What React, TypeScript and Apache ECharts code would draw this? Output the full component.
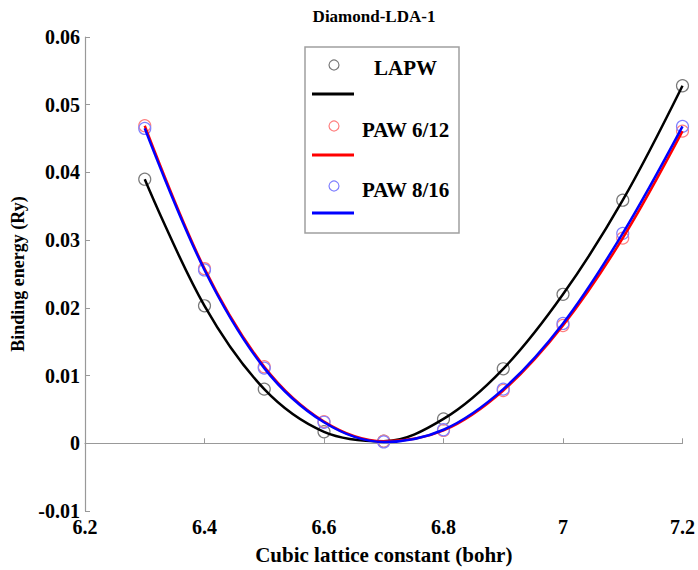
import React, { useEffect, useRef } from "react";
import * as echarts from "echarts";

const latticeConstants = [6.3, 6.4, 6.5, 6.6, 6.7, 6.8, 6.9, 7.0, 7.1, 7.2];
const lapw = [0.0390, 0.0203, 0.0080, 0.0017, 0.0003, 0.0036, 0.0110, 0.0220, 0.0359, 0.0528];
const paw612 = [0.0469, 0.0258, 0.0113, 0.0032, 0.0003, 0.0019, 0.0078, 0.0174, 0.0303, 0.0461];
const paw816 = [0.0465, 0.0256, 0.0111, 0.0031, 0.0002, 0.0020, 0.0080, 0.0177, 0.0310, 0.0468];
const seriesNames = ["LAPW", "PAW 6/12", "PAW 8/16"];
const xTicks = { min: 6.2, max: 7.2, interval: 0.2 };
const yTicks = { min: -0.01, max: 0.06, interval: 0.01 };

const FONT = "'Liberation Serif', 'Times New Roman', serif";

export default function App() {
  const ref = useRef<HTMLDivElement>(null);
  useEffect(() => {
    if (!ref.current) return;
    const chart = echarts.init(ref.current, null, { renderer: "svg" });
    const pair = (ys: number[]) => latticeConstants.map((x, i) => [x, ys[i]]);
    const lineColors = ["#000000", "#ff0000", "#0000ff"];
    const markerColors = ["#7a7a7a", "#ff8080", "#8080ff"];
    const datasets = [lapw, paw612, paw816];

    const lineSeries = datasets.map((d, i) => ({
      type: "line",
      name: seriesNames[i] + " fit",
      data: pair(d),
      smooth: 0.35,
      showSymbol: false,
      symbol: "none",
      lineStyle: { color: lineColors[i], width: 2.5 },
      z: 3 + i,
    }));
    const scatterSeries = datasets.map((d, i) => ({
      type: "scatter",
      name: seriesNames[i],
      data: pair(d),
      symbol: "circle",
      symbolSize: 12,
      itemStyle: { color: "rgba(255,255,255,0)", borderColor: markerColors[i], borderWidth: 1.2, opacity: 1 },
      z: 2,
    }));

    const legendX = 305;
    const legendY = 47;
    const legendGraphics: any[] = [
      {
        type: "rect",
        shape: { x: legendX, y: legendY, width: 154, height: 186 },
        style: { fill: "#ffffff", stroke: "#a0a0a0", lineWidth: 1.5 },
        z: 100,
      },
    ];
    const rows = [
      { cy: 65, ly: 94, tx: 374, ty: 68 },
      { cy: 126, ly: 155, tx: 362, ty: 130 },
      { cy: 186, ly: 213, tx: 362, ty: 190 },
    ];
    rows.forEach((r, i) => {
      legendGraphics.push({
        type: "circle",
        shape: { cx: 334, cy: r.cy, r: 5 },
        style: { fill: "none", stroke: markerColors[i], lineWidth: 1.2 },
        z: 101,
      });
      legendGraphics.push({
        type: "line",
        shape: { x1: 312, y1: r.ly, x2: 354, y2: r.ly },
        style: { stroke: lineColors[i], lineWidth: 3 },
        z: 101,
      });
      legendGraphics.push({
        type: "text",
        x: r.tx,
        y: r.ty,
        style: {
          text: seriesNames[i],
          fontFamily: FONT,
          fontWeight: "bold",
          fontSize: 21,
          fill: "#000",
          textAlign: "left",
          textVerticalAlign: "middle",
        },
        z: 101,
      });
    });

    chart.setOption({
      animation: false,
      backgroundColor: "#ffffff",
      title: {
        text: "Diamond-LDA-1",
        left: 369,
        top: 3,
        textAlign: "center",
        textStyle: { fontFamily: FONT, fontWeight: "bold", fontSize: 17, color: "#000" },
      },
      grid: { left: 85, right: 15, top: 37, bottom: 57, containLabel: false },
      xAxis: {
        type: "value",
        min: xTicks.min,
        max: xTicks.max,
        interval: xTicks.interval,
        name: "Cubic lattice constant (bohr)",
        nameLocation: "middle",
        nameGap: 33,
        nameTextStyle: { fontFamily: FONT, fontWeight: "bold", fontSize: 21, color: "#000" },
        axisLine: { show: true, lineStyle: { color: "#999999", width: 1.2 } },
        axisTick: { show: true, inside: true, length: 5, lineStyle: { color: "#999999" } },
        axisLabel: {
          fontFamily: FONT,
          fontWeight: "bold",
          fontSize: 20,
          color: "#000",
          margin: 6,
          formatter: (v: number) => String(Math.round(v * 10) / 10),
        },
        splitLine: { show: false },
      },
      yAxis: {
        type: "value",
        min: yTicks.min,
        max: yTicks.max,
        interval: yTicks.interval,
        name: "Binding energy (Ry)",
        nameLocation: "middle",
        nameGap: 58,
        nameTextStyle: { fontFamily: FONT, fontWeight: "bold", fontSize: 18, color: "#000" },
        axisLine: { show: true, lineStyle: { color: "#999999", width: 1.2 } },
        axisTick: { show: true, inside: true, length: 5, lineStyle: { color: "#999999" } },
        axisLabel: {
          fontFamily: FONT,
          fontWeight: "bold",
          fontSize: 20,
          color: "#000",
          margin: 5,
          formatter: (v: number) => {
            const r = Math.round(v * 100) / 100;
            return r === 0 ? "0" : r.toFixed(2);
          },
        },
        splitLine: { show: false },
      },
      legend: { show: false },
      series: [...scatterSeries, ...lineSeries],
      graphic: legendGraphics,
    });
    return () => chart.dispose();
  }, []);
  return (
    <div
      ref={ref}
      style={{ position: "fixed", left: 0, top: 0, width: 698, height: 570 }}
    />
  );
}
